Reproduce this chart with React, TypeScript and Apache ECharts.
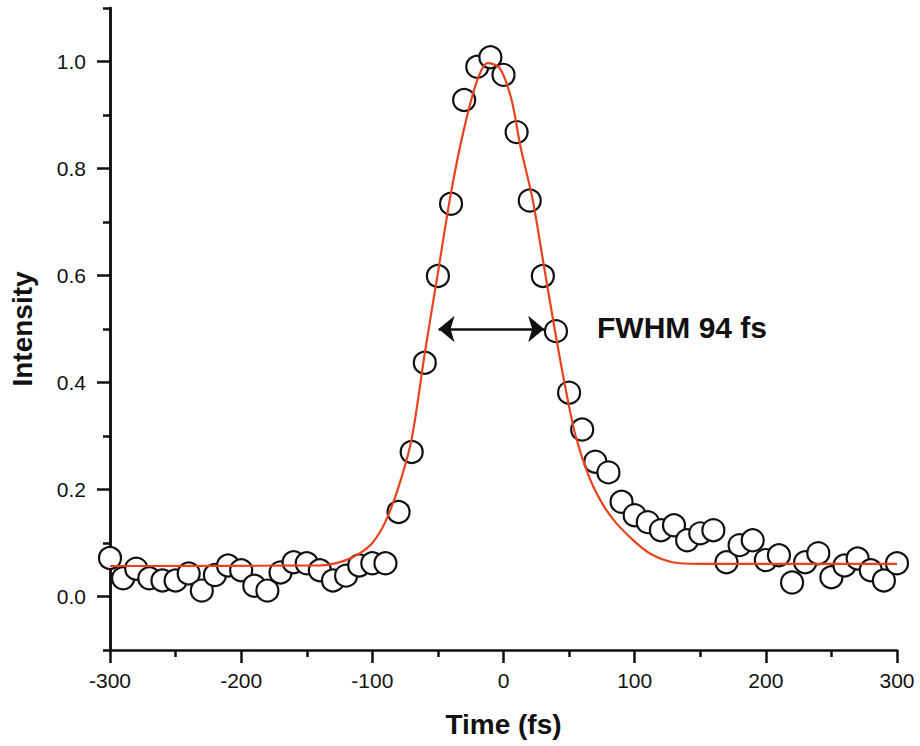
import React, { useEffect, useRef } from "react";
import * as echarts from "echarts";

// Measured autocorrelation points (time in fs, normalized intensity)
const times: number[] = [
  -300, -290, -280, -270, -260, -250, -240, -230, -220, -210,
  -200, -190, -180, -170, -160, -150, -140, -130, -120, -110,
  -100, -90, -80, -70, -60, -50, -40, -30, -20, -10,
  0, 10, 20, 30, 40, 50, 60, 70, 80, 90,
  100, 110, 120, 130, 140, 150, 160, 170, 180, 190,
  200, 210, 220, 230, 240, 250, 260, 270, 280, 290, 300,
];
const intensity: number[] = [
  0.072, 0.034, 0.052, 0.034, 0.030, 0.030, 0.043, 0.011, 0.040, 0.058,
  0.049, 0.020, 0.011, 0.045, 0.064, 0.062, 0.049, 0.030, 0.039, 0.058,
  0.062, 0.062, 0.158, 0.270, 0.437, 0.599, 0.734, 0.928, 0.990, 1.008,
  0.975, 0.868, 0.740, 0.599, 0.496, 0.381, 0.312, 0.252, 0.232, 0.177,
  0.152, 0.139, 0.124, 0.133, 0.105, 0.118, 0.124, 0.064, 0.096, 0.105,
  0.068, 0.077, 0.026, 0.064, 0.081, 0.036, 0.058, 0.071, 0.049, 0.030, 0.062,
];

// Fit curve
const fitTimes: number[] = [
  -300, -140, -130, -120, -110, -100, -90, -80, -70, -60,
  -50, -40, -30, -20, -12, -3, 6, 13, 22, 30,
  39, 48, 55, 65, 75, 85, 99, 112, 129, 150, 300,
];
const fitValues: number[] = [
  0.057, 0.058, 0.061, 0.068, 0.080, 0.100, 0.140, 0.205, 0.295, 0.455,
  0.605, 0.755, 0.875, 0.965, 0.997, 0.988, 0.930, 0.840, 0.745, 0.630,
  0.500, 0.380, 0.300, 0.225, 0.175, 0.140, 0.105, 0.080, 0.064, 0.061, 0.061,
];

const fwhmArrowX: number[] = [-49.5, 31];
const fwhmLevel = 0.5;
const fwhmText = "FWHM 94 fs";

const yMajorTicks: number[] = [0, 0.2, 0.4, 0.6, 0.8, 1.0];
const yMinorTicks: number[] = [-0.1, 0.1, 0.3, 0.5, 0.7, 0.9, 1.1];

const FONT = "Liberation Sans, Arial, sans-serif";

export default function App() {
  const ref = useRef<HTMLDivElement>(null);
  useEffect(() => {
    if (!ref.current) return;
    const chart = echarts.init(ref.current, null, { renderer: "svg" });
    const axisLine = { show: true, onZero: false, lineStyle: { color: "#111", width: 2.5 } };
    chart.setOption({
      animation: false,
      backgroundColor: "#fff",
      grid: { left: 110, right: 23, top: 8, bottom: 96, containLabel: false },
      xAxis: {
        type: "value",
        min: -300,
        max: 300,
        interval: 100,
        name: "Time (fs)",
        nameLocation: "middle",
        nameGap: 60,
        nameTextStyle: { fontFamily: FONT, fontWeight: "bold", fontSize: 28, color: "#111" },
        axisLine,
        axisTick: { show: true, inside: false, length: 13, lineStyle: { color: "#111", width: 2.5 } },
        minorTick: { show: true, splitNumber: 2, length: 7, lineStyle: { color: "#111", width: 2.5 } },
        axisLabel: { fontFamily: FONT, fontSize: 21, color: "#111", margin: 20 },
        splitLine: { show: false },
        minorSplitLine: { show: false },
      },
      yAxis: [
        {
          type: "value",
          min: -0.1,
          max: 1.1,
          position: "left",
          name: "Intensity",
          nameLocation: "middle",
          nameGap: 74,
          nameTextStyle: { fontFamily: FONT, fontWeight: "bold", fontSize: 28, color: "#111" },
          axisLine,
          axisTick: {
            show: true,
            length: 13,
            customValues: yMajorTicks,
            lineStyle: { color: "#111", width: 2.5 },
          },
          axisLabel: {
            fontFamily: FONT,
            fontSize: 21,
            color: "#111",
            margin: 24,
            customValues: yMajorTicks,
            formatter: (v: number) => v.toFixed(1),
          },
          splitLine: { show: false },
        },
        {
          type: "value",
          min: -0.1,
          max: 1.1,
          position: "left",
          axisLine,
          axisTick: {
            show: true,
            length: 7,
            customValues: yMinorTicks,
            lineStyle: { color: "#111", width: 2.5 },
          },
          axisLabel: { show: false },
          splitLine: { show: false },
        },
      ],
      series: [
        {
          type: "scatter",
          name: "data",
          data: times.map((t, i) => [t, intensity[i]]),
          symbol: "circle",
          symbolSize: 22,
          itemStyle: { color: "#fff", borderColor: "#111", borderWidth: 2.2, opacity: 1 },
          z: 2,
        },
        {
          type: "line",
          name: "fit",
          data: fitTimes.map((t, i) => [t, fitValues[i]]),
          showSymbol: false,
          smooth: 0.3,
          lineStyle: { color: "#e8431f", width: 2.2 },
          z: 3,
          markLine: {
            silent: true,
            symbol: ["arrow", "arrow"],
            symbolSize: [20, 16],
            label: { show: false },
            lineStyle: { color: "#111", width: 2.5, type: "solid" },
            data: [
              [
                { coord: [fwhmArrowX[0], fwhmLevel] },
                { coord: [fwhmArrowX[1], fwhmLevel] },
              ],
            ],
          },
        },
      ],
      graphic: [
        {
          type: "text",
          left: 597,
          top: 312,
          style: {
            text: fwhmText,
            fontFamily: FONT,
            fontWeight: "bold",
            fontSize: 30,
            fill: "#111",
          },
        },
      ],
    });
    return () => chart.dispose();
  }, []);
  return (
    <div
      ref={ref}
      style={{ position: "fixed", left: 0, top: 0, width: 920, height: 746 }}
    />
  );
}
